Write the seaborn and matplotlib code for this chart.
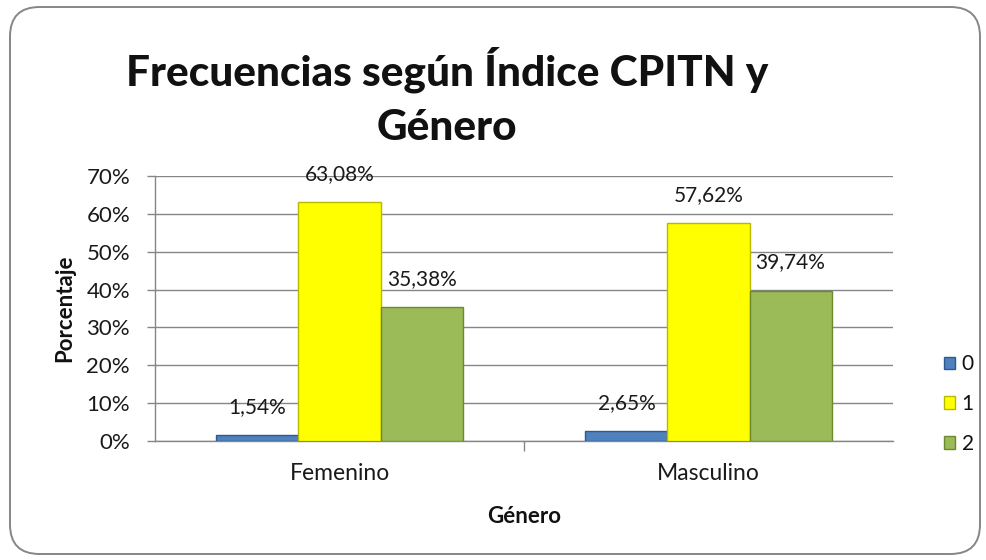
import matplotlib
matplotlib.use("Agg")
import matplotlib.pyplot as plt
import seaborn as sns
import pandas as pd
from matplotlib.patches import FancyBboxPatch, Patch

categories = ["Femenino", "Masculino"]
series = ["0", "1", "2"]
values_0 = [1.54, 2.65]
values_1 = [63.08, 57.62]
values_2 = [35.38, 39.74]
yticks = [0, 10, 20, 30, 40, 50, 60, 70]

rows = []
for s, vals in zip(series, [values_0, values_1, values_2]):
    for c, v in zip(categories, vals):
        rows.append({"Género": c, "CPITN": s, "Porcentaje": v})
df = pd.DataFrame(rows)

sns.set_theme(style="white")
plt.rcParams['font.family'] = ['Lato', 'DejaVu Sans']

fig = plt.figure(figsize=(9.86, 5.6), dpi=100)
ax = fig.add_axes([155/986, 1-441/560, (893-155)/986, (441-176)/560])

palette = {"0": "#4F81BD", "1": "#FFFF00", "2": "#9BBB59"}
edges = {"0": "#2C5A8F", "1": "#B8B800", "2": "#6B8A2E"}
sns.barplot(data=df, x="Género", y="Porcentaje", hue="CPITN", palette=palette,
            order=categories, hue_order=series, width=0.667, ax=ax,
            legend=False, saturation=1, zorder=3)

for cont, s in zip(ax.containers, series):
    for bar in cont:
        bar.set_edgecolor(edges[s])
        bar.set_linewidth(1.0)
    ax.bar_label(cont, labels=[f"{v:.2f}".replace(".", ",") + "%" for v in cont.datavalues],
                 padding=13, fontsize=15, color="#1a1a1a")

ax.set_ylim(0, 70)
ax.set_xlim(-0.5, 1.5)
ax.set_yticks(yticks)
ax.set_yticklabels([f"{t}%" for t in yticks], fontsize=16, color="#1a1a1a")
ax.tick_params(axis="y", length=6, color="#868686", width=1, left=True, pad=12)
ax.tick_params(axis="x", length=0, pad=16, labelsize=16.5, labelcolor="#1a1a1a")
ax.set_xticks([0.5], minor=True)
ax.tick_params(axis="x", which="minor", length=7, color="#868686", width=1, bottom=True)
ax.yaxis.grid(True, color="#868686", linewidth=1.0, zorder=0)
ax.set_axisbelow(True)
for sp in ["top", "right"]:
    ax.spines[sp].set_visible(False)
for sp in ["left", "bottom"]:
    ax.spines[sp].set_color("#868686")
    ax.spines[sp].set_linewidth(1.0)

ax.set_xlabel("Género", fontsize=16, fontweight="bold", labelpad=16, color="#111111")
ax.set_ylabel("Porcentaje", fontsize=16, fontweight="bold", labelpad=8, color="#111111")

fig.text(0.453, 1-70/560, "Frecuencias según Índice CPITN y", ha="center", va="center",
         fontsize=30.5, fontweight="black", color="#111111")
fig.text(0.453, 1-128/560, "Género", ha="center", va="center",
         fontsize=30.5, fontweight="black", color="#111111")

handles = [Patch(facecolor=palette[s], edgecolor=edges[s], label=s) for s in series]
leg = fig.legend(handles=handles, loc="center left", bbox_to_anchor=(944/986, 1-404/560),
                 frameon=False, fontsize=15, handlelength=0.55, handleheight=0.55,
                 handletextpad=0.3, labelspacing=0.95, borderaxespad=0, borderpad=0)
for t in leg.get_texts():
    t.set_color("#111111")

border = FancyBboxPatch((10/986, 6/560), (980-10)/986, (553-6)/560,
                        boxstyle="round,pad=0,rounding_size=0.03",
                        transform=fig.transFigure, facecolor="none",
                        edgecolor="#868686", linewidth=1.4, mutation_aspect=986/560)
fig.patches.append(border)

fig.savefig("out.png", dpi=100)
